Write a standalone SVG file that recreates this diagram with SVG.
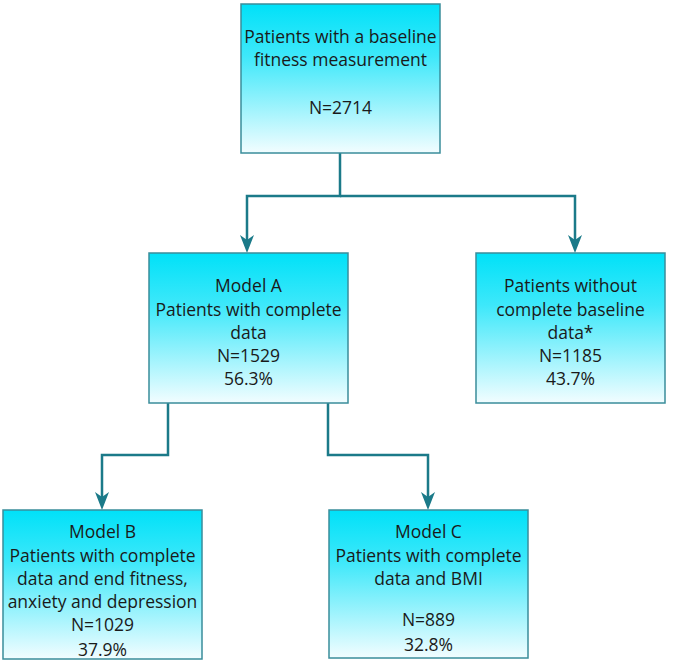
<svg xmlns="http://www.w3.org/2000/svg" width="678" height="663" viewBox="0 0 678 663">
<defs>
<linearGradient id="g" x1="0" y1="0" x2="0" y2="1">
<stop offset="0" stop-color="#00e1f8"/>
<stop offset="0.35" stop-color="#3ee8fa"/>
<stop offset="1" stop-color="#f2fdff"/>
</linearGradient>
<style>
.box{fill:url(#g);stroke:#3a8d9b;stroke-width:1.5}
.t{font-family:"Open Sans","Noto Sans",sans-serif;font-size:17.5px;fill:#1a1a1a;text-anchor:middle}
.c{fill:none;stroke:#1b7a89;stroke-width:2.5}
.a{fill:#1b7a89}
</style>
</defs>
<g id="connectors">
<path class="c" d="M340,153 V196 H247 V241"/>
<path class="c" d="M340,196 H575 V241"/>
<path class="c" d="M168,403 V455 H102 V498"/>
<path class="c" d="M328,403 V455 H428 V498"/>
<path class="a" d="M240,235 L247,240 L254,235 L247,253 Z"/>
<path class="a" d="M568,235 L575,240 L582,235 L575,253 Z"/>
<path class="a" d="M95,492 L102,497 L109,492 L102,510 Z"/>
<path class="a" d="M421,492 L428,497 L435,492 L428,510 Z"/>
</g>
<g id="top">
<rect class="box" x="241" y="4" width="199" height="149"/>
<text class="t" x="340.5" y="43">Patients with a baseline</text>
<text class="t" x="340.5" y="66">fitness measurement</text>
<text class="t" x="340.5" y="114">N=2714</text>
</g>
<g id="modelA">
<rect class="box" x="149" y="253" width="199" height="150"/>
<text class="t" x="248.5" y="292">Model A</text>
<text class="t" x="248.5" y="316">Patients with complete</text>
<text class="t" x="248.5" y="339">data</text>
<text class="t" x="248.5" y="362">N=1529</text>
<text class="t" x="248.5" y="385">56.3%</text>
</g>
<g id="without">
<rect class="box" x="476" y="253" width="189" height="150"/>
<text class="t" x="570.5" y="292">Patients without</text>
<text class="t" x="570.5" y="316">complete baseline</text>
<text class="t" x="570.5" y="339">data*</text>
<text class="t" x="570.5" y="362">N=1185</text>
<text class="t" x="570.5" y="385">43.7%</text>
</g>
<g id="modelB">
<rect class="box" x="3" y="510" width="199" height="149"/>
<text class="t" x="102.5" y="538">Model B</text>
<text class="t" x="102.5" y="562">Patients with complete</text>
<text class="t" x="102.5" y="585">data and end fitness,</text>
<text class="t" x="102.5" y="608">anxiety and depression</text>
<text class="t" x="102.5" y="631">N=1029</text>
<text class="t" x="102.5" y="656">37.9%</text>
</g>
<g id="modelC">
<rect class="box" x="329" y="510" width="199" height="148"/>
<text class="t" x="428.5" y="538">Model C</text>
<text class="t" x="428.5" y="562">Patients with complete</text>
<text class="t" x="428.5" y="585">data and BMI</text>
<text class="t" x="428.5" y="626">N=889</text>
<text class="t" x="428.5" y="651">32.8%</text>
</g>
</svg>
